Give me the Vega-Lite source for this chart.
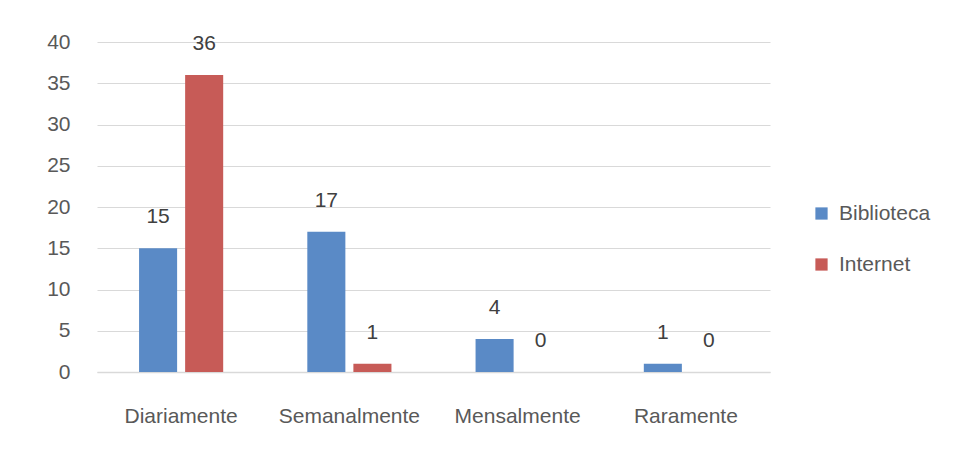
{
  "$schema": "https://vega.github.io/schema/vega-lite/v6.json",
  "autosize": "none",
  "width": 673,
  "height": 330,
  "padding": {"left": 97, "top": 42, "right": 192, "bottom": 84},
  "background": "white",
  "config": {
    "font": "Liberation Sans",
    "view": {"stroke": null}
  },
  "data": {
    "values": [
      {"freq": "Diariamente", "fonte": "Biblioteca", "valor": 15},
      {"freq": "Diariamente", "fonte": "Internet", "valor": 36},
      {"freq": "Semanalmente", "fonte": "Biblioteca", "valor": 17},
      {"freq": "Semanalmente", "fonte": "Internet", "valor": 1},
      {"freq": "Mensalmente", "fonte": "Biblioteca", "valor": 4},
      {"freq": "Mensalmente", "fonte": "Internet", "valor": 0},
      {"freq": "Raramente", "fonte": "Biblioteca", "valor": 1},
      {"freq": "Raramente", "fonte": "Internet", "valor": 0}
    ]
  },
  "encoding": {
    "x": {
      "field": "freq", "type": "nominal", "sort": null,
      "scale": {"paddingInner": 0.5, "paddingOuter": 0.25},
      "axis": {"title": null, "labelAngle": 0, "ticks": false, "domainColor": "#D9D9D9", "domainWidth": 1.5,
               "labelFontSize": 21, "labelColor": "#595959", "labelPadding": 33}
    },
    "xOffset": {"field": "fonte", "type": "nominal", "scale": {"paddingInner": 0.174, "paddingOuter": 0}},
    "y": {
      "field": "valor", "type": "quantitative",
      "scale": {"domain": [0, 40], "nice": false},
      "axis": {"title": null, "values": [0,5,10,15,20,25,30,35,40], "labelOverlap": false, "domain": false, "ticks": false,
               "gridColor": "#D9D9D9", "gridWidth": 1.2, "labelFontSize": 21, "labelColor": "#595959", "labelPadding": 27}
    }
  },
  "layer": [
    {
      "mark": {"type": "bar"},
      "encoding": {
        "color": {
          "field": "fonte", "type": "nominal",
          "scale": {"domain": ["Biblioteca", "Internet"], "range": ["#5A8AC6", "#C75B57"]},
          "legend": {"title": null, "orient": "none", "legendX": 714, "legendY": 161,
                     "symbolType": "square", "symbolSize": 150, "labelFontSize": 21, "labelColor": "#595959",
                     "rowPadding": 29, "labelOffset": 7, "symbolStrokeWidth": 0}
        }
      }
    },
    {
      "mark": {"type": "text", "dy": -31, "baseline": "middle", "fontSize": 21, "color": "#404040"},
      "encoding": {
        "text": {"field": "valor", "type": "quantitative"}
      }
    }
  ]
}
